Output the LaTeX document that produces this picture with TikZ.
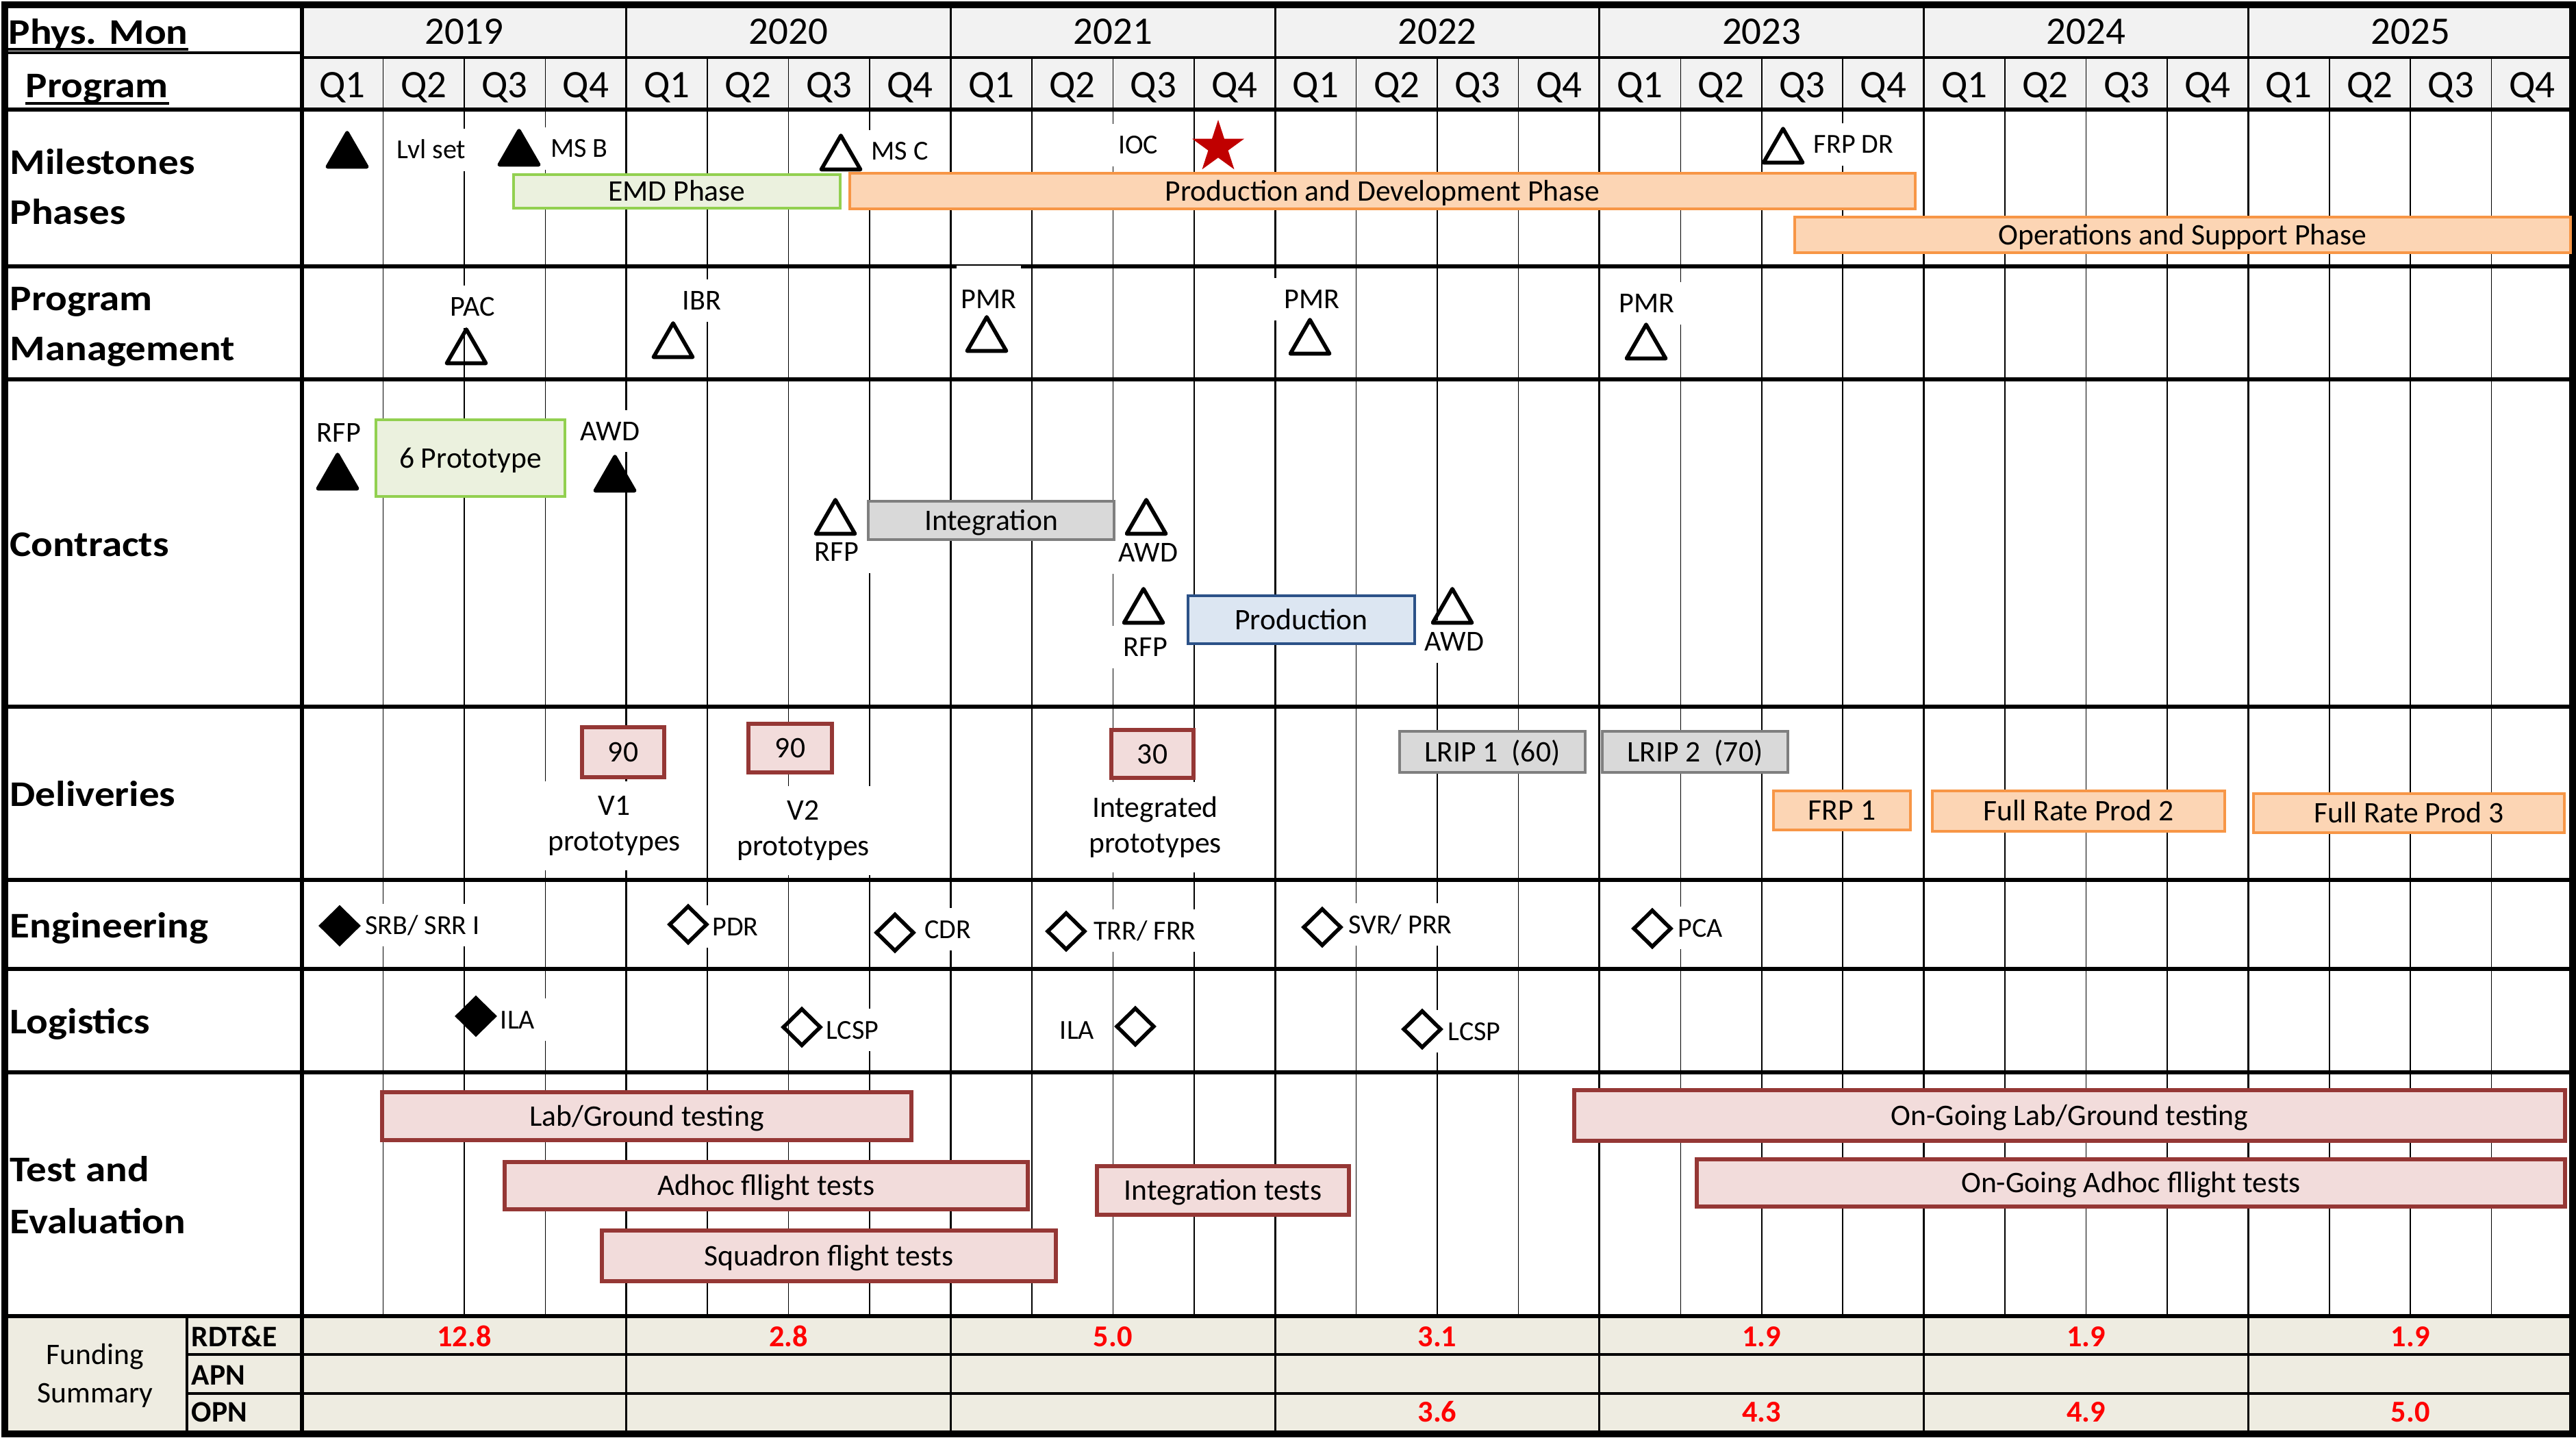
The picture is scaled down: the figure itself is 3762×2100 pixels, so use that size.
\documentclass[tikz,border=0pt]{standalone}
\usepackage{fontspec}
\setmainfont{Carlito}
\newfontfamily\rowfont[FakeStretch=1.12]{Carlito}
\usetikzlibrary{shapes.geometric}

\definecolor{hdrfill}{HTML}{F2F2F2}
\definecolor{fundfill}{HTML}{EEECE1}
\definecolor{grnline}{HTML}{92D050}
\definecolor{grnfill}{HTML}{EBF1DE}
\definecolor{orgline}{HTML}{F79646}
\definecolor{orgfill}{HTML}{FCD5B4}
\definecolor{gryline}{HTML}{7F7F7F}
\definecolor{gryfill}{HTML}{D9D9D9}
\definecolor{bluline}{HTML}{2C5288}
\definecolor{blufill}{HTML}{DCE6F2}
\definecolor{redline}{HTML}{953735}
\definecolor{redfill}{HTML}{F2DCDB}
\definecolor{starred}{HTML}{C00000}
\definecolor{fundred}{HTML}{FF0000}

\tikzset{
  qline/.style={line width=0.45pt},
  yline/.style={line width=0.9pt},
  hline/.style={line width=1pt},
  rowline/.style={line width=1.9pt},
  outerframe/.style={line width=2.6pt},
  uline/.style={line width=1.1pt},
  bigtxt/.style={font=\fontsize{16.2}{19}\selectfont, anchor=base, inner sep=0pt},
  rowlbl/.style={font=\rowfont\bfseries\fontsize{15}{18}\selectfont, anchor=base west, inner sep=0pt},
  fundlbl/.style={font=\fontsize{12.4}{15}\selectfont, anchor=base, inner sep=0pt},
  fundrow/.style={font=\bfseries\fontsize{12.4}{15}\selectfont, anchor=base west, inner sep=0pt},
  fundnum/.style={font=\bfseries\fontsize{12.6}{15}\selectfont, text=fundred, anchor=base, inner sep=0pt},
  lbl/.style={font=\fontsize{12}{14}\selectfont, fill=white, inner xsep=5pt, inner ysep=5pt, text height=7.8pt, text depth=0pt},
  slbl/.style={lbl, font=\fontsize{11.4}{13}\selectfont, text height=7.4pt},
  dlbl/.style={font=\fontsize{12.4}{14.8}\selectfont, fill=white, align=center, inner xsep=5pt, inner ysep=6pt},
  ganttbar/.style={line width=1.4pt, font=\fontsize{12.4}{15}\selectfont, text height=8pt, text depth=0pt},
  greenbar/.style={ganttbar, draw=grnline, fill=grnfill},
  orangebar/.style={ganttbar, draw=orgline, fill=orgfill},
  graybar/.style={ganttbar, draw=gryline, fill=gryfill},
  bluebar/.style={ganttbar, draw=bluline, fill=blufill},
  redbar/.style={ganttbar, line width=1.6pt, draw=redline, fill=redfill},
  tri/.style={regular polygon, regular polygon sides=3, draw, line width=1.6pt, line join=round, minimum size=6.6mm, inner sep=0pt},
  ftri/.style={tri, fill=black},
  dia/.style={diamond, draw, line width=1.6pt, minimum width=5.6mm, minimum height=5.5mm, inner sep=0pt},
  fdia/.style={dia, fill=black}
}

\begin{document}
\begin{tikzpicture}[x=0.1mm,y=-0.1mm]
\useasboundingbox (0,0) rectangle (3762,2100);

% backgrounds
\fill[hdrfill] (441,7) rectangle (3757,160);
\fill[fundfill] (7,1922) rectangle (3757,2094);

% grid
\foreach \k in {1,...,27}
  \draw[qline] ({441+118.43*\k},84) -- ({441+118.43*\k},1922);
\foreach \k in {4,8,...,24}
  \draw[yline] ({441+118.43*\k},7) -- ({441+118.43*\k},2094);
\foreach \y in {160,389,554,1032,1285,1415,1566,1922}
  \draw[rowline] (7,\y) -- (3757,\y);
\draw[hline] (7,77) -- (441,77);
\draw[hline] (441,84) -- (3757,84);
\draw[hline] (273,1978) -- (3757,1978);
\draw[hline] (273,2035) -- (3757,2035);
\draw[yline] (273,1922) -- (273,2094);
\draw[rowline] (441,7) -- (441,2094);
\draw[outerframe] (7,7) rectangle (3757,2094);

% header
\node[rowlbl] (phys) at (12,65) {Phys. Mon};
\node[rowlbl] (prog) at (37,143) {Program};
\draw[uline] ([yshift=-0.7mm]phys.base west) -- ([yshift=-0.7mm]phys.base east);
\draw[uline] ([yshift=-0.8mm]prog.base west) -- ([yshift=-0.8mm]prog.base east);
\foreach \yr [count=\i from 0] in {2019,...,2025}
  \node[bigtxt] (yr\yr) at ({677.9+473.71*\i},65) {\yr};
\foreach \k in {0,...,27} {
  \pgfmathtruncatemacro{\qn}{mod(\k,4)+1}
  \node[bigtxt] (q\k) at ({500.2+118.43*\k},143) {Q\qn};
}

% row labels
\node[rowlbl] (mil) at (14,255) {Milestones};
\node[rowlbl] (pha) at (14,328) {Phases};
\node[rowlbl] (pgm) at (14,454) {Program};
\node[rowlbl] (mgt) at (14,527) {Management};
\node[rowlbl] (con) at (14,812) {Contracts};
\node[rowlbl] (del) at (14,1177) {Deliveries};
\node[rowlbl] (eng) at (14,1369) {Engineering};
\node[rowlbl] (logi) at (14,1509) {Logistics};
\node[rowlbl] (tst) at (14,1725) {Test and};
\node[rowlbl] (evl) at (14,1801) {Evaluation};

% milestones and phases
\node[slbl] (lvlset) at (630,219) {Lvl set};
\node[slbl] (msb) at (846,217) {MS B};
\node[slbl] (msc) at (1314,221) {MS C};
\node[slbl] (ioc) at (1662,212) {IOC};
\node[slbl] (frpdr) at (2707,211) {FRP DR};
\draw[greenbar] (750,255) rectangle (1227,304) node[midway] (emd) {EMD Phase};
\draw[orangebar] (1241,253) rectangle (2797,305) node[midway] (pdp) {Production and Development Phase};
\draw[orangebar] (2621,317) rectangle (3754,369) node[midway] (osp) {Operations and Support Phase};
\node[ftri] (lvltri) at (507,227) {};
\node[ftri] (msbtri) at (758,224) {};
\node[tri] (msctri) at (1228,231) {};
\node[star, star points=5, star point ratio=2.618, fill=starred, minimum size=8mm, inner sep=0pt] (iocstar) at (1779,215) {};
\node[tri] (frptri) at (2604,221) {};

% program management
\node[lbl] (pac) at (690,448) {PAC};
\node[lbl] (ibr) at (1025,439) {IBR};
\node[lbl, inner xsep=2pt, inner ysep=10pt] (pmra) at (1444,437) {PMR};
\node[lbl] (pmrb) at (1916,437) {PMR};
\node[lbl] (pmrc) at (2405,443) {PMR};
\node[tri] (pactri) at (681,514) {};
\node[tri] (ibrtri) at (983,505) {};
\node[tri] (pmratri) at (1441,496) {};
\node[tri] (pmrbtri) at (1913,500) {};
\node[tri] (pmrctri) at (2404,507) {};

% contracts
\node[lbl] (rfpa) at (495,632) {RFP};
\node[lbl] (awda) at (891,630) {AWD};
\node[lbl] (rfpb) at (1222,806) {RFP};
\node[lbl] (awdb) at (1677,807) {AWD};
\node[lbl] (rfpc) at (1673,945) {RFP};
\node[lbl] (awdc) at (2124,937) {AWD};
\draw[greenbar] (549,613) rectangle (825,725) node[midway] (proto) {6 Prototype};
\draw[graybar] (1268,732) rectangle (1627,788) node[midway] (integ) {Integration};
\draw[bluebar] (1735,870) rectangle (2066,940) node[midway] (prod) {Production};
\node[ftri] (rfpatri) at (493,697) {};
\node[ftri] (awdatri) at (898,700) {};
\draw[yline] ({441+118.43*4},660) -- ({441+118.43*4},730);
\node[tri] (rfpbtri) at (1220,763) {};
\node[tri] (awdbtri) at (1674,763) {};
\node[tri] (rfpctri) at (1670,893) {};
\node[tri] (awdctri) at (2121,893) {};

% deliveries
\node[dlbl] (v1) at (897,1206) {V1\\prototypes};
\node[dlbl] (v2) at (1173,1213) {V2\\prototypes};
\node[dlbl] (intp) at (1687,1208) {Integrated\\prototypes};
\draw[redbar] (850,1062) rectangle (970,1135) node[midway] (d90a) {90};
\draw[redbar] (1093,1057) rectangle (1215,1128) node[midway] (d90b) {90};
\draw[redbar] (1623,1066) rectangle (1743,1136) node[midway] (d30) {30};
\draw[graybar] (2044,1068) rectangle (2315,1128) node[midway] (lrip1) {LRIP 1\ \ (60)};
\draw[graybar] (2340,1068) rectangle (2611,1128) node[midway] (lrip2) {LRIP 2\ \ (70)};
\draw[orangebar] (2590,1155) rectangle (2790,1212) node[midway] (frp1) {FRP 1};
\draw[orangebar] (2822,1155) rectangle (3249,1214) node[midway] (frp2) {Full Rate Prod 2};
\draw[orangebar] (3291,1159) rectangle (3745,1216) node[midway] (frp3) {Full Rate Prod 3};

% engineering
\node[slbl] (srb) at (617,1351) {SRB/ SRR I};
\node[slbl] (pdr) at (1074,1353) {PDR};
\node[slbl] (cdr) at (1384,1357) {CDR};
\node[slbl] (trr) at (1672,1359) {TRR/ FRR};
\node[slbl] (svr) at (2045,1350) {SVR/ PRR};
\node[slbl] (pca) at (2483,1355) {PCA};
\node[fdia] (srbdia) at (496,1352) {};
\node[dia] (pdrdia) at (1005,1350) {};
\node[dia] (cdrdia) at (1307,1362) {};
\node[dia] (trrdia) at (1557,1360) {};
\node[dia] (svrdia) at (1931,1354) {};
\node[dia] (pcadia) at (2413,1356) {};

% logistics
\node[slbl] (ilaa) at (756,1489) {ILA};
\node[slbl] (lcspa) at (1245,1504) {LCSP};
\node[slbl] (ilab) at (1573,1504) {ILA};
\node[slbl] (lcspb) at (2153,1506) {LCSP};
\node[fdia] (ilaadia) at (695,1484) {};
\node[dia] (lcspadia) at (1171,1500) {};
\node[dia] (ilabdia) at (1658,1499) {};
\node[dia] (lcspbdia) at (2077,1503) {};

% test and evaluation
\draw[redbar] (558,1595) rectangle (1331,1665) node[midway] (labgt) {Lab/Ground testing};
\draw[redbar] (737,1697) rectangle (1501,1766) node[midway] (adhoc) {Adhoc fllight tests};
\draw[redbar] (879,1797) rectangle (1542,1871) node[midway] (sqdn) {Squadron flight tests};
\draw[redbar] (1602,1703) rectangle (1970,1774) node[midway] (intt) {Integration tests};
\draw[redbar] (2299,1592) rectangle (3746,1666) node[midway] (oglab) {On-Going Lab/Ground testing};
\draw[redbar] (2478,1693) rectangle (3746,1762) node[midway] (ogadhoc) {On-Going Adhoc fllight tests};

% funding summary
\node[fundlbl] (fund) at (139,1992) {Funding};
\node[fundlbl] (summ) at (139,2048) {Summary};
\node[fundrow] (rdte) at (279,1966) {RDT\&E};
\node[fundrow] (apn) at (279,2022) {APN};
\node[fundrow] (opn) at (279,2076) {OPN};
\foreach \v [count=\i from 0] in {12.8,2.8,5.0,3.1,1.9,1.9,1.9}
  \node[fundnum] (rd\i) at ({677.9+473.71*\i},1966) {\v};
\foreach \v [count=\i from 3] in {3.6,4.3,4.9,5.0}
  \node[fundnum] (op\i) at ({677.9+473.71*\i},2076) {\v};
\end{tikzpicture}
\end{document}
